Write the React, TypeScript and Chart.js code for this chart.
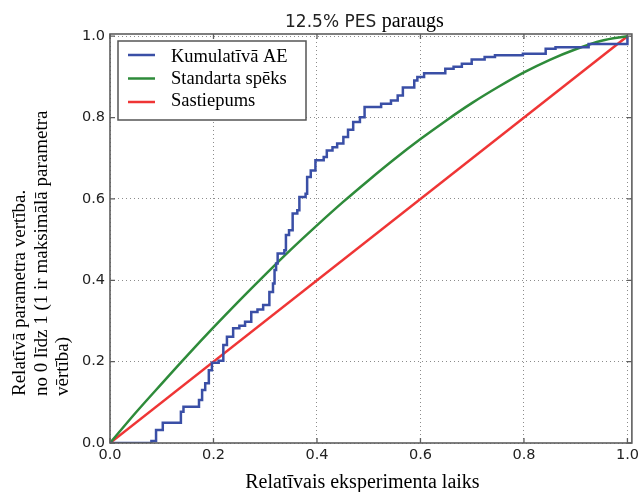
import React, { useEffect, useRef } from 'react';
import { Chart, registerables } from 'chart.js';

Chart.register(...registerables);

// ---------- texts ----------
const TITLE_SANS = '12.5% PES ';
const TITLE_SERIF = 'paraugs';
const X_LABEL = 'Relatīvais eksperimenta laiks';
const Y_LABEL_LINES = [
  'Relatīvā parametra vertība.',
  'no 0 līdz 1 (1 ir maksimālā parametra',
  'vērtība)',
];
const SERIES_LABELS = ['Kumulatīvā AE', 'Standarta spēks', 'Sastiepums'];
const TICK_VALUES = [0, 0.2, 0.4, 0.6, 0.8, 1.0];

// ---------- data ----------
// Kumulatīvā AE (step curve; value jumps to y at x)
const cumX = [
  0, 0.08, 0.089, 0.102, 0.137, 0.142, 0.172, 0.178, 0.184, 0.191, 0.197, 0.21,
  0.219, 0.226, 0.238, 0.25, 0.261, 0.273, 0.285, 0.296, 0.308, 0.315, 0.318,
  0.321, 0.324, 0.337, 0.34, 0.346, 0.353, 0.362, 0.366, 0.378, 0.381, 0.388,
  0.397, 0.413, 0.419, 0.43, 0.439, 0.451, 0.46, 0.47, 0.483, 0.492, 0.524,
  0.543, 0.556, 0.566, 0.588, 0.594, 0.607, 0.648, 0.664, 0.68, 0.699, 0.724,
  0.744, 0.798, 0.842, 0.861, 0.925, 1.0,
];
const cumY = [
  0, 0.005, 0.032, 0.05, 0.077, 0.089, 0.106, 0.13, 0.147, 0.179, 0.197, 0.202,
  0.241, 0.261, 0.282, 0.288, 0.298, 0.322, 0.328, 0.339, 0.371, 0.392, 0.425,
  0.441, 0.466, 0.474, 0.511, 0.523, 0.564, 0.572, 0.605, 0.613, 0.654, 0.67,
  0.695, 0.703, 0.719, 0.727, 0.736, 0.752, 0.77, 0.789, 0.801, 0.826, 0.834,
  0.842, 0.854, 0.874, 0.891, 0.9, 0.909, 0.92, 0.925, 0.932, 0.943, 0.949,
  0.953, 0.957, 0.969, 0.973, 0.981, 1.0,
];
// Standarta spēks
const forceX = [
  0, 0.05, 0.1, 0.15, 0.2, 0.25, 0.3, 0.35, 0.4, 0.45, 0.5, 0.55, 0.6, 0.65,
  0.7, 0.75, 0.8, 0.85, 0.9, 0.95, 1.0,
];
const forceY = [
  0, 0.075, 0.146, 0.216, 0.284, 0.35, 0.414, 0.476, 0.535, 0.592, 0.646,
  0.698, 0.747, 0.793, 0.836, 0.875, 0.911, 0.942, 0.968, 0.989, 1.0,
];
// Sastiepums
const strainX = [0, 1];
const strainY = [0, 1];

const X_MAX = 1.0086;
const Y_MAX = 1.0054;

const COLORS = ['#3a4fa6', '#2e8b3a', '#ef3535'];
const FRAME = '#5e5e5e';
const GRID = '#8c8c8c';
const SANS = '"DejaVu Sans", sans-serif';
const SERIF = '"Liberation Serif", "Times New Roman", serif';

const toPoints = (xs: number[], ys: number[]) => xs.map((x, i) => ({ x, y: ys[i] }));

const decor = {
  id: 'decor',
  beforeDraw(chart: any) {
    const { ctx, width, height } = chart;
    ctx.save();
    ctx.fillStyle = '#ffffff';
    ctx.fillRect(0, 0, width, height);
    ctx.restore();
  },
  afterDatasetsDraw(chart: any) {
    const { ctx, chartArea: a, scales } = chart;
    ctx.save();
    ctx.strokeStyle = FRAME;
    ctx.lineWidth = 1.3;
    ctx.beginPath();
    for (const t of scales.x.ticks) {
      const p = scales.x.getPixelForValue(t.value);
      ctx.moveTo(p, a.bottom);
      ctx.lineTo(p, a.bottom - 5);
      ctx.moveTo(p, a.top);
      ctx.lineTo(p, a.top + 5);
    }
    for (const t of scales.y.ticks) {
      const p = scales.y.getPixelForValue(t.value);
      ctx.moveTo(a.left, p);
      ctx.lineTo(a.left + 5, p);
      ctx.moveTo(a.right, p);
      ctx.lineTo(a.right - 5, p);
    }
    ctx.stroke();
    ctx.lineWidth = 1.6;
    ctx.strokeRect(a.left, a.top, a.right - a.left, a.bottom - a.top);
    ctx.restore();
  },
  afterDraw(chart: any) {
    const { ctx, chartArea: a } = chart;
    ctx.save();
    // legend
    const lx = a.left + 8;
    const ly = a.top + 7;
    const lw = 188;
    const lh = 79;
    ctx.fillStyle = '#ffffff';
    ctx.fillRect(lx, ly, lw, lh);
    ctx.strokeStyle = '#555555';
    ctx.lineWidth = 1.5;
    ctx.strokeRect(lx, ly, lw, lh);
    chart.data.datasets.forEach((ds: any, i: number) => {
      const yLine = ly + 14 + i * 23.5;
      const yText = ly + 16.5 + i * 21.8;
      ctx.strokeStyle = ds.borderColor;
      ctx.lineWidth = 2.5;
      ctx.beginPath();
      ctx.moveTo(lx + 10, yLine);
      ctx.lineTo(lx + 37, yLine);
      ctx.stroke();
      ctx.fillStyle = '#000000';
      ctx.font = `18.5px ${SERIF}`;
      ctx.textAlign = 'left';
      ctx.textBaseline = 'middle';
      ctx.fillText(ds.label, lx + 53, yText);
    });
    // title (mixed fonts)
    const mid = (a.left + a.right) / 2;
    ctx.textBaseline = 'alphabetic';
    ctx.textAlign = 'left';
    ctx.font = `17px ${SANS}`;
    const w1 = ctx.measureText(TITLE_SANS).width;
    ctx.font = `20px ${SERIF}`;
    const w2 = ctx.measureText(TITLE_SERIF).width;
    const tx = mid - 6.5 - (w1 + w2) / 2;
    ctx.fillStyle = '#222222';
    ctx.font = `17px ${SANS}`;
    ctx.fillText(TITLE_SANS, tx, 27);
    ctx.fillStyle = '#000000';
    ctx.font = `20px ${SERIF}`;
    ctx.fillText(TITLE_SERIF, tx + w1, 27);
    // x label
    ctx.font = `20px ${SERIF}`;
    ctx.textAlign = 'center';
    ctx.fillText(X_LABEL, mid - 8.5, 488);
    // y label (rotated, left aligned at bottom)
    ctx.font = `19px ${SERIF}`;
    ctx.textAlign = 'left';
    ctx.textBaseline = 'middle';
    Y_LABEL_LINES.forEach((line, i) => {
      ctx.save();
      ctx.translate(20 + i * 21.6, 396);
      ctx.rotate(-Math.PI / 2);
      ctx.fillText(line, 0, 0);
      ctx.restore();
    });
    ctx.restore();
  },
};

export default function App() {
  const ref = useRef<HTMLCanvasElement | null>(null);

  useEffect(() => {
    if (!ref.current) return;
    const tickFont = { family: SANS, size: 14.5 };
    const chart = new Chart(ref.current, {
      type: 'line',
      data: {
        datasets: [
          {
            label: SERIES_LABELS[0],
            data: toPoints(cumX, cumY),
            borderColor: COLORS[0],
            backgroundColor: COLORS[0],
            borderWidth: 2.5,
            stepped: 'before',
            pointRadius: 0,
            fill: false,
          },
          {
            label: SERIES_LABELS[1],
            data: toPoints(forceX, forceY),
            borderColor: COLORS[1],
            backgroundColor: COLORS[1],
            borderWidth: 2.5,
            cubicInterpolationMode: 'monotone',
            pointRadius: 0,
            fill: false,
          },
          {
            label: SERIES_LABELS[2],
            data: toPoints(strainX, strainY),
            borderColor: COLORS[2],
            backgroundColor: COLORS[2],
            borderWidth: 2.5,
            pointRadius: 0,
            fill: false,
          },
        ],
      } as any,
      options: {
        animation: false,
        responsive: false,
        devicePixelRatio: 1,
        maintainAspectRatio: false,
        events: [],
        layout: { padding: { top: 34, right: 4, left: 0, bottom: 0 } },
        plugins: {
          legend: { display: false },
          title: { display: false },
          tooltip: { enabled: false },
        },
        scales: {
          x: {
            type: 'linear',
            min: 0,
            max: X_MAX,
            afterBuildTicks: (s: any) => {
              s.ticks = TICK_VALUES.map((v) => ({ value: v }));
            },
            afterFit: (s: any) => {
              s.height = 49;
            },
            ticks: {
              font: tickFont,
              color: '#222222',
              padding: 4,
              maxRotation: 0,
              autoSkip: false,
              callback: (v: any) => Number(v).toFixed(1),
            },
            grid: { color: GRID, lineWidth: 1, drawTicks: false, borderDash: [1, 3] } as any,
            border: { display: false, dash: [1, 3] },
          },
          y: {
            type: 'linear',
            min: 0,
            max: Y_MAX,
            afterBuildTicks: (s: any) => {
              s.ticks = TICK_VALUES.map((v) => ({ value: v }));
            },
            afterFit: (s: any) => {
              s.width = 110;
            },
            ticks: {
              font: tickFont,
              color: '#222222',
              padding: 5,
              autoSkip: false,
              callback: (v: any) => Number(v).toFixed(1),
            },
            grid: { color: GRID, lineWidth: 1, drawTicks: false, borderDash: [1, 3] } as any,
            border: { display: false, dash: [1, 3] },
          },
        },
      } as any,
      plugins: [decor],
    });
    return () => chart.destroy();
  }, []);

  return (
    <div style={{ position: 'fixed', left: 0, top: 0, width: 643, height: 492, background: '#fff' }}>
      <canvas ref={ref} width={643} height={492} style={{ display: 'block', width: 643, height: 492 }} />
    </div>
  );
}
